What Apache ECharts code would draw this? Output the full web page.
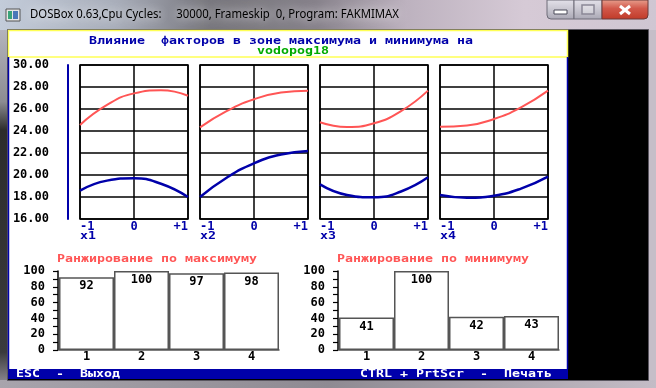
<!DOCTYPE html>
<html>
<head>
<meta charset="utf-8">
<script src="https://cdn.jsdelivr.net/npm/echarts/dist/echarts.min.js"></script>
<style>html,body{margin:0;padding:0;background:#b8b4bc;}#c{width:656px;height:388px;}</style>
</head>
<body>
<div id="c"></div>
<script>
// ---- data ----
const windowTitle = 'DOSBox 0.63,Cpu Cycles:     30000, Frameskip  0, Program: FAKMIMAX';
const mainTitle = 'Влияние  факторов в зоне максимума и минимума на';
const subTitle = 'vodopog18';
const factorNames = ['x1', 'x2', 'x3', 'x4'];
const factorLevels = [-1, -0.5, 0, 0.5, 1];
const factorTickLabels = ['-1', '0', '+1'];
// upper (red) curves: response in the maximum zone
const maxX1 = [24.55, 26.37, 27.42, 27.70, 27.20];
const maxX2 = [24.33, 25.83, 26.88, 27.50, 27.67];
const maxX3 = [24.79, 24.36, 24.70, 25.80, 27.67];
const maxX4 = [24.39, 24.50, 25.09, 26.15, 27.67];
// lower (blue) curves: response in the minimum zone
const minX1 = [18.58, 19.49, 19.70, 19.20, 18.00];
const minX2 = [18.00, 19.77, 21.06, 21.86, 22.18];
const minX3 = [19.15, 18.19, 17.97, 18.50, 19.79];
const minX4 = [18.18, 17.93, 18.12, 18.76, 19.85];
const rankCategories = ['1', '2', '3', '4'];
const rankMaxTitle = 'Ранжирование по максимуму';
const rankMinTitle = 'Ранжирование по минимуму';
const rankMax = [92, 100, 97, 98];
const rankMin = [41, 100, 42, 43];
const statusLeft = 'ESC  -  Выход';
const statusRight = 'CTRL + PrtScr  -  Печать';

// ---- styling ----
const MONO = '"DejaVu Sans Mono", "Liberation Mono", monospace';
const DBLUE = '#0000aa', LRED = '#ff5555', GREEN = '#00aa00';
const maxSets = [maxX1, maxX2, maxX3, maxX4];
const minSets = [minX1, minX2, minX3, minX4];
const lineLefts = [80, 200, 320, 440];

function dosText(str, x, y, color) {
  return {type: 'text', x: x, y: y, scaleX: 1.107, scaleY: 0.85, z: 20,
    style: {text: str, x: 0, y: 0, fill: color, font: 'bold 12px ' + MONO,
      textAlign: 'left', textVerticalAlign: 'middle'}};
}

const grids = [], xAxes = [], yAxes = [], series = [], nameTexts = [];
for (let i = 0; i < 4; i++) {
  grids.push({left: lineLefts[i], top: 65, width: 108, height: 154, show: true,
    backgroundColor: '#fff', borderColor: '#000', borderWidth: 1.5, containLabel: false});
  xAxes.push({type: 'value', gridIndex: i, min: -1, max: 1, interval: 1,
    axisLine: {show: false}, axisTick: {show: false},
    splitLine: {show: true, lineStyle: {color: '#000', width: 1.5}},
    axisLabel: {color: DBLUE, fontFamily: MONO, fontWeight: 'bold', fontSize: 12, margin: 2,
      alignMinLabel: 'left', alignMaxLabel: 'right',
      formatter: v => factorTickLabels[Math.round(v) + 1]}});
  yAxes.push({type: 'value', gridIndex: i, min: 16, max: 30, interval: 2,
    offset: i === 0 ? 12 : 0,
    axisLine: {show: i === 0, onZero: false, lineStyle: {color: DBLUE, width: 2}},
    axisTick: {show: false},
    splitLine: {show: true, lineStyle: {color: '#000', width: 1.5}},
    axisLabel: {show: i === 0, color: '#000', fontFamily: MONO, fontWeight: 'bold', fontSize: 12,
      margin: 19, formatter: v => v.toFixed(2)}});
  series.push({type: 'line', xAxisIndex: i, yAxisIndex: i, smooth: true, symbol: 'none',
    lineStyle: {color: LRED, width: 2}, z: 5,
    data: factorLevels.map((x, k) => [x, maxSets[i][k]])});
  series.push({type: 'line', xAxisIndex: i, yAxisIndex: i, smooth: true, symbol: 'none',
    lineStyle: {color: DBLUE, width: 2.5}, z: 5,
    data: factorLevels.map((x, k) => [x, minSets[i][k]])});
  nameTexts.push(dosText(factorNames[i], lineLefts[i], 236, DBLUE));
}
const barLefts = [59, 339];
const barSets = [rankMax, rankMin];
for (let j = 0; j < 2; j++) {
  const gi = 4 + j;
  grids.push({left: barLefts[j], top: 271, width: 220, height: 79, show: false});
  xAxes.push({type: 'category', gridIndex: gi, data: rankCategories,
    axisLine: {show: true, onZero: false, lineStyle: {color: '#555', width: 1.5}}, axisTick: {show: false},
    splitLine: {show: false},
    axisLabel: {color: '#000', fontFamily: MONO, fontWeight: 'bold', fontSize: 12, margin: 1}});
  yAxes.push({type: 'value', gridIndex: gi, min: 0, max: 100, interval: 10, offset: 1,
    axisLine: {show: true, onZero: false, lineStyle: {color: '#000', width: 1.5}},
    axisTick: {show: true, length: 5, lineStyle: {color: '#000', width: 1.2}},
    splitLine: {show: false},
    axisLabel: {color: '#000', fontFamily: MONO, fontWeight: 'bold', fontSize: 12, margin: 13,
      formatter: v => (v % 20 === 0 ? String(v) : '')}});
  series.push({type: 'bar', xAxisIndex: gi, yAxisIndex: gi, barCategoryGap: '0%',
    data: barSets[j],
    itemStyle: {color: '#fff', borderColor: '#555', borderWidth: 1.5},
    label: {show: true, position: 'insideTop', distance: 3, color: '#000',
      fontFamily: MONO, fontWeight: 'bold', fontSize: 12}});
}

const graphic = [
  // window chrome
  {type: 'rect', z: -20, shape: {x: 0, y: 0, width: 656, height: 30},
    style: {fill: new echarts.graphic.LinearGradient(0, 0, 1, 0, [
      {offset: 0, color: '#c3ccda'}, {offset: 0.18, color: '#a8adb9'},
      {offset: 0.32, color: '#77767d'}, {offset: 0.48, color: '#86818a'},
      {offset: 0.62, color: '#bdb2bf'}, {offset: 0.8, color: '#d6cad6'},
      {offset: 1, color: '#cfc6d2'}])}},
  {type: 'rect', z: -20, shape: {x: 0, y: 30, width: 8, height: 358},
    style: {fill: new echarts.graphic.LinearGradient(0, 0, 0, 1, [
      {offset: 0, color: '#b4b4bc'}, {offset: 0.2, color: '#8c8c92'},
      {offset: 0.28, color: '#2c2c2c'}, {offset: 0.9, color: '#3a3a3c'},
      {offset: 1, color: '#9a96a0'}])}},
  {type: 'rect', z: -20, shape: {x: 648, y: 30, width: 8, height: 358},
    style: {fill: '#c6bec8'}},
  {type: 'rect', z: -20, shape: {x: 0, y: 380, width: 656, height: 8},
    style: {fill: new echarts.graphic.LinearGradient(0, 0, 1, 0, [
      {offset: 0, color: '#a8a4ac'}, {offset: 0.5, color: '#8e8a92'}, {offset: 1, color: '#c4bcc6'}])}},
  {type: 'rect', z: -19, shape: {x: 7.5, y: 29.5, width: 641, height: 351},
    style: {fill: '#000', stroke: '#5a5660', lineWidth: 1}},
  // app icon
  {type: 'rect', z: -15, shape: {x: 6, y: 9, width: 14, height: 12},
    style: {fill: '#e6e6e6', stroke: '#555', lineWidth: 1}},
  {type: 'rect', z: -14, shape: {x: 8, y: 11, width: 4, height: 8}, style: {fill: '#3aa37a'}},
  {type: 'rect', z: -14, shape: {x: 13, y: 11, width: 5, height: 8}, style: {fill: '#4a78b8'}},
  // title text
  {type: 'text', z: -10, x: 30, y: 15, scaleX: 0.945,
    style: {text: windowTitle, fill: '#000', font: '12px "Noto Sans", "DejaVu Sans", sans-serif',
      textAlign: 'left', textVerticalAlign: 'middle', textShadowColor: 'rgba(255,255,255,0.95)',
      textShadowBlur: 10}},
  // caption buttons
  {type: 'rect', z: -15, shape: {x: 547, y: 0, width: 27, height: 19, r: [0, 0, 0, 4]},
    style: {fill: new echarts.graphic.LinearGradient(0, 0, 0, 1, [
      {offset: 0, color: '#e4e2ea'}, {offset: 0.5, color: '#c8c6d0'}, {offset: 1, color: '#a9a7b4'}]),
      stroke: '#6e6c78', lineWidth: 1}},
  {type: 'rect', z: -15, shape: {x: 574, y: 0, width: 28, height: 19},
    style: {fill: new echarts.graphic.LinearGradient(0, 0, 0, 1, [
      {offset: 0, color: '#e4e2ea'}, {offset: 0.5, color: '#c8c6d0'}, {offset: 1, color: '#a9a7b4'}]),
      stroke: '#6e6c78', lineWidth: 1}},
  {type: 'rect', z: -15, shape: {x: 602, y: 0, width: 46, height: 19, r: [0, 0, 4, 0]},
    style: {fill: new echarts.graphic.LinearGradient(0, 0, 0, 1, [
      {offset: 0, color: '#e8a08e'}, {offset: 0.45, color: '#d2584a'}, {offset: 1, color: '#c03a28'}]),
      stroke: '#6a3a3a', lineWidth: 1}},
  {type: 'rect', z: -14, shape: {x: 554, y: 10, width: 13, height: 4},
    style: {fill: '#fff', stroke: '#4a4a58', lineWidth: 1}},
  {type: 'rect', z: -14, shape: {x: 582, y: 5, width: 12, height: 9},
    style: {fill: 'rgba(255,255,255,0.3)', stroke: '#8a8896', lineWidth: 1.5}},
  {type: 'line', z: -14, shape: {x1: 620, y1: 6, x2: 630, y2: 14},
    style: {stroke: '#fff', lineWidth: 3}},
  {type: 'line', z: -14, shape: {x1: 630, y1: 6, x2: 620, y2: 14},
    style: {stroke: '#fff', lineWidth: 3}},
  // DOS screen
  {type: 'rect', z: -18, shape: {x: 8, y: 30, width: 560, height: 349}, style: {fill: '#fff'}},
  {type: 'rect', z: -17, shape: {x: 8.5, y: 30.5, width: 559, height: 26.5},
    style: {fill: 'none', stroke: '#ffff55', lineWidth: 1.5}},
  {type: 'line', z: -17, shape: {x1: 8.5, y1: 57, x2: 8.5, y2: 369},
    style: {stroke: DBLUE, lineWidth: 1.5}},
  {type: 'line', z: -17, shape: {x1: 567.5, y1: 57, x2: 567.5, y2: 369},
    style: {stroke: DBLUE, lineWidth: 1.5}},
  {type: 'rect', z: -17, shape: {x: 8, y: 369, width: 560, height: 10}, style: {fill: DBLUE}},
  dosText(mainTitle, 89, 41, DBLUE),
  dosText(subTitle, 257, 51, GREEN),
  dosText(rankMaxTitle, 57, 259, LRED),
  dosText(rankMinTitle, 337, 259, LRED),
  dosText(statusLeft, 16, 374, '#fff'),
  dosText(statusRight, 360, 374, '#fff')
].concat(nameTexts);

const chart = echarts.init(document.getElementById('c'), null, {renderer: 'canvas'});
chart.setOption({
  backgroundColor: '#b8b4bc',
  animation: false,
  grid: grids, xAxis: xAxes, yAxis: yAxes, series: series,
  graphic: graphic
});
</script>
</body>
</html>
